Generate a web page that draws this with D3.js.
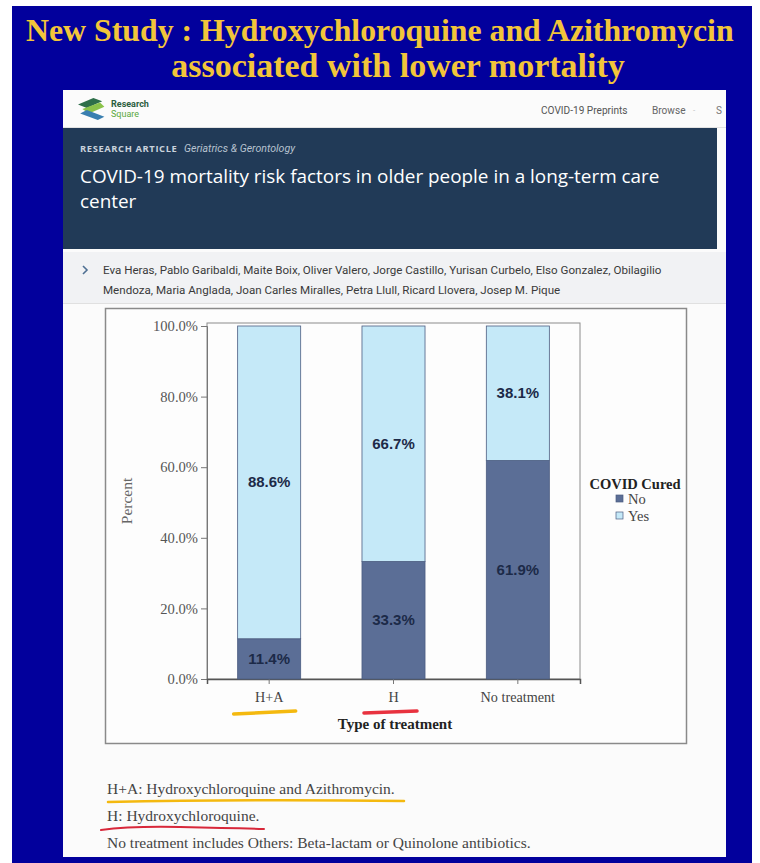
<!DOCTYPE html>
<html>
<head>
<meta charset="utf-8">
<script src="https://cdn.jsdelivr.net/npm/d3@7/dist/d3.min.js"></script>
<style>
  html, body { margin: 0; padding: 0; background: #ffffff; }
  svg { display: block; }
</style>
</head>
<body>
<div id="chart"></div>
<script>
// ---------- data ----------
const categories = ["H+A", "H", "No treatment"];
const seriesNames = ["No", "Yes"];
const noValues = [11.4, 33.3, 61.9];
const yesValues = [88.6, 66.7, 38.1];
const yTickValues = [0, 20, 40, 60, 80, 100];
const slideTitleLines = ["New Study : Hydroxychloroquine and Azithromycin", "associated with lower mortality"];
const articleTitleLines = ["COVID-19 mortality risk factors in older people in a long-term care", "center"];
const authorLines = [
  "Eva Heras, Pablo Garibaldi, Maite Boix, Oliver Valero, Jorge Castillo, Yurisan Curbelo, Elso Gonzalez, Obilagilio",
  "Mendoza, Maria Anglada, Joan Carles Miralles, Petra Llull, Ricard Llovera, Josep M. Pique"
];
const footnotes = [
  "H+A: Hydroxychloroquine and Azithromycin.",
  "H: Hydroxychloroquine.",
  "No treatment includes Others: Beta-lactam or Quinolone antibiotics."
];

// ---------- page ----------
const W = 760, H = 863;
const svg = d3.select("#chart").append("svg").attr("width", W).attr("height", H);

svg.append("rect").attr("width", W).attr("height", H).attr("fill", "#ffffff");
// blue slide
svg.append("rect").attr("x", 12).attr("y", 6).attr("width", 740).attr("height", H - 6).attr("fill", "#02009c");

// slide title
svg.append("text").attr("x", 26).attr("y", 41)
  .attr("font-family", "Liberation Serif, Times New Roman, serif").attr("font-weight", "bold")
  .attr("font-size", 31.8).attr("fill", "#f2c53a").text(slideTitleLines[0]);
svg.append("text").attr("x", 398).attr("y", 77).attr("text-anchor", "middle")
  .attr("font-family", "Liberation Serif, Times New Roman, serif").attr("font-weight", "bold")
  .attr("font-size", 34).attr("fill", "#f2c53a").text(slideTitleLines[1]);

// card
svg.append("rect").attr("x", 63).attr("y", 90).attr("width", 663).attr("height", 767).attr("fill", "#fbfbfb");
// header
svg.append("line").attr("x1", 63).attr("x2", 726).attr("y1", 127.5).attr("y2", 127.5).attr("stroke", "#e2e2e2");
// logo
const logo = svg.append("g").attr("transform", "translate(78,98) scale(1.1)");
logo.append("path").attr("d", "M0,6 L14,0 L22,3 L8,9 Z").attr("fill", "#2e6f4a");
logo.append("path").attr("d", "M4,10 L20,4 L24,8 L10,14 Z").attr("fill", "#8bc34a");
logo.append("path").attr("d", "M2,14 L18,20 L24,17 L8,11 Z").attr("fill", "#3a7fb0");
svg.append("text").attr("x", 111).attr("y", 107).attr("font-family", "Roboto, sans-serif").attr("font-weight", "bold")
  .attr("font-size", 9).attr("fill", "#2c5e3f").text("Research");
svg.append("text").attr("x", 111).attr("y", 116.5).attr("font-family", "Roboto, sans-serif")
  .attr("font-size", 9).attr("fill", "#5aa83c").text("Square");
svg.append("text").attr("x", 541).attr("y", 114).attr("font-family", "Roboto, sans-serif")
  .attr("font-size", 10.1).attr("fill", "#555").text("COVID-19 Preprints");
svg.append("text").attr("x", 652).attr("y", 114).attr("font-family", "Roboto, sans-serif")
  .attr("font-size", 10.1).attr("fill", "#666").text("Browse");
svg.append("text").attr("x", 693).attr("y", 113).attr("font-family", "Roboto, sans-serif")
  .attr("font-size", 8).attr("fill", "#bbb").text("-");
svg.append("text").attr("x", 716).attr("y", 114).attr("font-family", "Roboto, sans-serif")
  .attr("font-size", 10).attr("fill", "#777").text("S");

// banner
svg.append("rect").attr("x", 63).attr("y", 128).attr("width", 654).attr("height", 121).attr("fill", "#213a57");
svg.append("text").attr("x", 80).attr("y", 152).attr("font-family", "Open Sans, sans-serif").attr("font-weight", "bold")
  .attr("font-size", 9.4).attr("letter-spacing", 0.6).attr("fill", "#c9d2dc").text("RESEARCH ARTICLE");
svg.append("text").attr("x", 184).attr("y", 152).attr("font-family", "Roboto, sans-serif").attr("font-style", "italic")
  .attr("font-size", 10.6).attr("fill", "#b7c2cf").text("Geriatrics & Gerontology");
articleTitleLines.forEach((t, i) => {
  svg.append("text").attr("x", 80).attr("y", 183 + i * 25).attr("font-family", "Open Sans, sans-serif")
    .attr("font-size", 18.9).attr("fill", "#ffffff").text(t);
});

// authors band
svg.append("rect").attr("x", 63).attr("y", 252).attr("width", 663).attr("height", 51).attr("fill", "#f1f2f4");
svg.append("line").attr("x1", 63).attr("x2", 726).attr("y1", 303.5).attr("y2", 303.5).attr("stroke", "#e0e0e0");
svg.append("path").attr("d", "M83,266 L87,270 L83,274").attr("stroke", "#4e6f92").attr("stroke-width", 1.6).attr("fill", "none");
authorLines.forEach((t, i) => {
  svg.append("text").attr("x", 103).attr("y", 274 + i * 20).attr("font-family", "Roboto, sans-serif")
    .attr("font-size", 11.6).attr("fill", "#3a3a3a").text(t);
});

// ---------- chart ----------
svg.append("rect").attr("x", 105.5).attr("y", 308.5).attr("width", 581).attr("height", 435)
  .attr("fill", "#fdfdfd").attr("stroke", "#8a8a8a").attr("stroke-width", 1.5);

const x = d3.scaleBand().domain(categories).range([207, 580]).paddingInner(0.493).paddingOuter(0.2465);
const y = d3.scaleLinear().domain([0, 100]).range([679, 326]);

// plot frame
svg.append("rect").attr("x", 207).attr("y", y(100) - 3).attr("width", 373).attr("height", y(0) - y(100) + 3)
  .attr("fill", "none").attr("stroke", "#8c8c8c").attr("stroke-width", 1);

const serif = "Liberation Serif, Times New Roman, serif";
const yAxis = d3.axisLeft(y).tickValues(yTickValues).tickFormat(d => d.toFixed(1) + "%").tickSizeOuter(0).tickSize(6).tickPadding(3);
const gy = svg.append("g").attr("transform", "translate(207,0)").call(yAxis);
gy.select(".domain").attr("stroke", "#777");
gy.selectAll(".tick line").attr("stroke", "#777");
gy.selectAll("text").attr("font-family", serif).attr("font-size", 14.6).attr("fill", "#555");

const xAxis = d3.axisBottom(x).tickSizeOuter(0).tickSize(5).tickPadding(8);
const gx = svg.append("g").attr("transform", "translate(0,679)").call(xAxis);
gx.select(".domain").attr("stroke", "#555").attr("stroke-width", 1.5);
gx.selectAll(".tick line").attr("stroke", "#777");
gx.selectAll("text").attr("font-family", serif).attr("font-size", 14.2).attr("fill", "#444");

svg.append("text").attr("transform", "translate(132,501) rotate(-90)").attr("text-anchor", "middle")
  .attr("font-family", serif).attr("font-size", 15.5).attr("fill", "#666").text("Percent");
svg.append("text").attr("x", 395).attr("y", 729).attr("text-anchor", "middle")
  .attr("font-family", serif).attr("font-weight", "bold").attr("font-size", 15).attr("fill", "#222").text("Type of treatment");

const colors = { No: "#5b6e96", Yes: "#c5e9f8" };
const rows = categories.map((c, i) => ({ cat: c, No: noValues[i], Yes: yesValues[i] }));
const stacked = d3.stack().keys(seriesNames)(rows);

stacked.forEach(layer => {
  svg.append("g").selectAll("rect").data(layer).join("rect")
    .attr("x", d => x(d.data.cat))
    .attr("y", d => y(d[1]))
    .attr("width", x.bandwidth())
    .attr("height", d => y(d[0]) - y(d[1]))
    .attr("fill", colors[layer.key])
    .attr("stroke", "#4b5c80").attr("stroke-width", 0.8);
  svg.append("g").selectAll("text").data(layer).join("text")
    .attr("x", d => x(d.data.cat) + x.bandwidth() / 2)
    .attr("y", d => (y(d[0]) + y(d[1])) / 2 + 5)
    .attr("text-anchor", "middle")
    .attr("font-family", "Liberation Sans, Arial, sans-serif").attr("font-weight", "bold")
    .attr("font-size", 15).attr("fill", "#1c2a48")
    .text(d => (d[1] - d[0]).toFixed(1) + "%");
});

// highlight underlines (hand drawn)
svg.append("path").attr("d", `M${x("H+A") - 4},714 L${x("H+A") + x.bandwidth() - 5},711`)
  .attr("stroke", "#f4b90f").attr("stroke-width", 3.5).attr("stroke-linecap", "round").attr("fill", "none");
svg.append("path").attr("d", `M${x("H") + 2},713 L${x("H") + x.bandwidth() - 8},711`)
  .attr("stroke", "#e8323f").attr("stroke-width", 3.5).attr("stroke-linecap", "round").attr("fill", "none");

// legend
svg.append("text").attr("x", 635).attr("y", 489).attr("text-anchor", "middle")
  .attr("font-family", serif).attr("font-weight", "bold").attr("font-size", 14.5).attr("fill", "#222").text("COVID Cured");
seriesNames.forEach((s, i) => {
  svg.append("rect").attr("x", 616).attr("y", 495 + i * 17).attr("width", 7).attr("height", 7)
    .attr("fill", colors[s]).attr("stroke", "#4b5c80").attr("stroke-width", 0.7);
  svg.append("text").attr("x", 628).attr("y", 504 + i * 17)
    .attr("font-family", serif).attr("font-size", 14.5).attr("fill", "#444").text(s);
});

// footnotes
footnotes.forEach((t, i) => {
  svg.append("text").attr("x", 107).attr("y", 794 + i * 27)
    .attr("font-family", serif).attr("font-size", 15.5).attr("fill", "#444").text(t);
});
svg.append("path").attr("d", "M108,802 Q250,799 404,801")
  .attr("stroke", "#f4b90f").attr("stroke-width", 2.5).attr("stroke-linecap", "round").attr("fill", "none");
svg.append("path").attr("d", "M101,830 Q130,826 180,827 Q230,828 264,829")
  .attr("stroke", "#d8283a").attr("stroke-width", 2).attr("stroke-linecap", "round").attr("fill", "none");
</script>
</body>
</html>
